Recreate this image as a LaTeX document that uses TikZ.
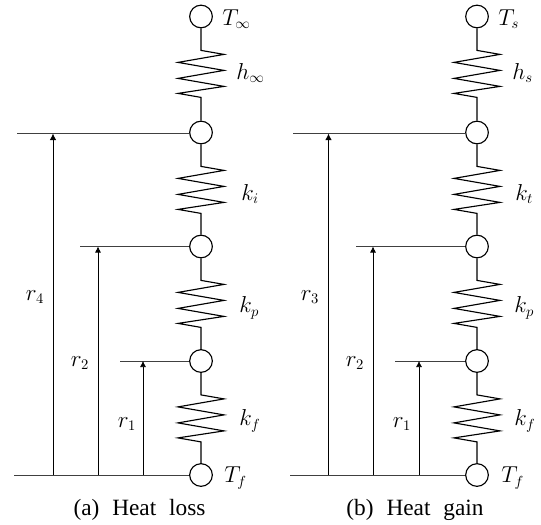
\documentclass[tikz,border=0pt]{standalone}
\usepackage{fontspec}
\setmainfont{Liberation Serif}
\usetikzlibrary{arrows.meta}
\tikzset{
  hub/.style={draw,circle,fill=white,minimum size=17pt,inner sep=0pt,line width=0.85pt},
  wire/.style={line width=0.85pt,line join=miter},
  levelline/.style={line width=0.75pt,draw=black!75},
  dimA/.style={line width=0.75pt,-{Latex[length=5pt,width=5pt]}},
  dimB/.style={line width=0.5pt,-{Latex[length=4.5pt,width=4.5pt]}},
  lab/.style={inner sep=0pt,font=\fontsize{16}{18}\selectfont},
  captext/.style={inner sep=0pt,font=\fontsize{17.5}{20}\selectfont}
}
\newcommand{\resistor}[2]{\draw[wire] (#1.south) -- ++(0,22) -- ++(23,4) -- ++(-46,8) -- ++(46,8) -- ++(-46,8) -- ++(46,8) -- ++(-46,7) -- ++(23,4) -- (#2.north);}
\begin{document}
\begin{tikzpicture}[x=0.75pt,y=-0.75pt]
\useasboundingbox (0,0) rectangle (541,524);
% ---- left
\node[hub] (a0) at (201,16.5) {};
\node[hub] (a1) at (201,132.5) {};
\node[hub] (a2) at (201,246.5) {};
\node[hub] (a3) at (201,361) {};
\node[hub] (a4) at (201,475) {};
\resistor{a0}{a1}
\resistor{a1}{a2}
\resistor{a2}{a3}
\resistor{a3}{a4}
\coordinate (al1) at (17,133.5);
\coordinate (al2) at (80,246.5);
\coordinate (al3) at (120,361);
\coordinate (al4) at (14,475);
\draw[levelline] (al1) -- (a1.west |- al1);
\draw[levelline] (al2) -- (a2.west);
\draw[levelline] (al3) -- (a3.west);
\draw[levelline] (al4) -- (a4.west);
\coordinate (ab1) at (53,475);
\coordinate (ab2) at (98,475);
\coordinate (ab3) at (143,475);
\draw[dimA] (ab1) -- (ab1 |- al1);
\draw[dimB] (ab2) -- (ab2 |- al2);
\draw[dimB] (ab3) -- (ab3 |- al3);
\node[lab,anchor=west] (at0) at (222,19) {$T_\infty$};
\node[lab,anchor=west] (ah) at (236,73) {$h_\infty$};
\node[lab,anchor=west] (aki) at (241,194) {$k_i$};
\node[lab,anchor=west] (akp) at (239,308) {$k_p$};
\node[lab,anchor=west] (akf) at (239,421) {$k_f$};
\node[lab,anchor=west] (atf) at (224,478) {$T_f$};
\node[lab] (ar4) at (35,297) {$r_4$};
\node[lab] (ar2) at (80,363) {$r_2$};
\node[lab] (ar1) at (127,424) {$r_1$};
\node[captext] (acap) at (139.5,510) {(a)\hspace{0.55em}Heat\hspace{0.55em}loss};
% ---- right
\node[hub] (b0) at (477,16.5) {};
\node[hub] (b1) at (477,132.5) {};
\node[hub] (b2) at (477,246.5) {};
\node[hub] (b3) at (477,361) {};
\node[hub] (b4) at (477,475) {};
\resistor{b0}{b1}
\resistor{b1}{b2}
\resistor{b2}{b3}
\resistor{b3}{b4}
\coordinate (bl1) at (293,133.5);
\coordinate (bl2) at (356,246.5);
\coordinate (bl3) at (395,361);
\coordinate (bl4) at (290,475);
\draw[levelline] (bl1) -- (b1.west |- bl1);
\draw[levelline] (bl2) -- (b2.west);
\draw[levelline] (bl3) -- (b3.west);
\draw[levelline] (bl4) -- (b4.west);
\coordinate (bb1) at (328.5,475);
\coordinate (bb2) at (373,475);
\coordinate (bb3) at (419,475);
\draw[dimA] (bb1) -- (bb1 |- bl1);
\draw[dimB] (bb2) -- (bb2 |- bl2);
\draw[dimB] (bb3) -- (bb3 |- bl3);
\node[lab,anchor=west] (bt0) at (498,19) {$T_s$};
\node[lab,anchor=west] (bh) at (512,73) {$h_s$};
\node[lab,anchor=west] (bkt) at (515,194) {$k_t$};
\node[lab,anchor=west] (bkp) at (514,308) {$k_p$};
\node[lab,anchor=west] (bkf) at (514,421) {$k_f$};
\node[lab,anchor=west] (btf) at (501,478) {$T_f$};
\node[lab] (br3) at (310,297) {$r_3$};
\node[lab] (br2) at (355,363) {$r_2$};
\node[lab] (br1) at (402,424) {$r_1$};
\node[captext] (bcap) at (415,510) {(b)\hspace{0.55em}Heat\hspace{0.55em}gain};
\end{tikzpicture}
\end{document}
